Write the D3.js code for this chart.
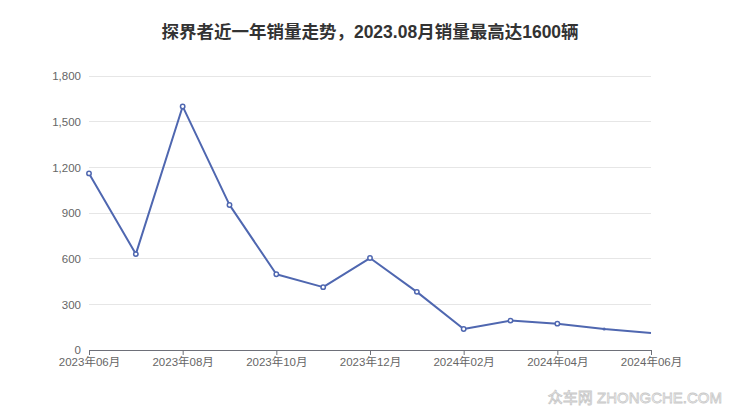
<!DOCTYPE html>
<html><head><meta charset="utf-8">
<script src="https://cdn.jsdelivr.net/npm/d3@7"></script>
<style>body{margin:0;background:#fff;}svg{display:block;font-family:"Liberation Sans","Noto Sans CJK SC",sans-serif;}</style>
</head><body>
<svg id="c" width="740" height="417"></svg>
<script>
const months = ["2023年06月","2023年07月","2023年08月","2023年09月","2023年10月","2023年11月","2023年12月","2024年01月","2024年02月","2024年03月","2024年04月","2024年05月","2024年06月"];
const sales = [1160, 630, 1600, 953, 498, 413, 604, 382, 138, 193, 173, 138, 112];
const yTicks = [0, 300, 600, 900, 1200, 1500, 1800];
const title = "探界者近一年销量走势，2023.08月销量最高达1600辆";

const svg = d3.select("#c");
const m = {l: 89, r: 651, t: 76, b: 350};
const x = d3.scalePoint().domain(months).range([m.l, m.r]);
const y = d3.scaleLinear().domain([0, 1800]).range([m.b, m.t]);

svg.append("text").attr("x", 370).attr("y", 38).attr("text-anchor", "middle")
  .attr("font-size", 17.5).attr("font-weight", "bold").attr("fill", "#333").text(title);

// grid
svg.append("g").selectAll("line").data(yTicks.filter(d => d > 0)).join("line")
  .attr("x1", m.l).attr("x2", m.r).attr("y1", d => y(d)).attr("y2", d => y(d))
  .attr("stroke", "#e6e6e6").attr("stroke-width", 1).attr("shape-rendering", "crispEdges");

// y axis labels
const yAxis = d3.axisLeft(y).tickValues(yTicks).tickSize(0).tickPadding(8).tickFormat(d3.format(","));
svg.append("g").attr("transform", `translate(${m.l},0)`).call(yAxis)
  .call(g => g.select(".domain").remove())
  .selectAll("text").attr("fill", "#666").attr("font-size", 11.5).attr("font-family", "Liberation Sans, sans-serif");

// x axis
const xAxis = d3.axisBottom(x).tickValues(months.filter((d, i) => i % 2 === 0)).tickSize(5).tickPadding(3);
svg.append("g").attr("transform", `translate(0,${m.b})`).call(xAxis)
  .call(g => g.select(".domain").attr("stroke", "#6e7079").attr("d", `M${m.l},0.5H${m.r}`))
  .call(g => g.selectAll(".tick line").attr("stroke", "#6e7079"))
  .selectAll("text").attr("fill", "#666").attr("font-size", 11.5).attr("font-family", "Liberation Sans, Noto Sans CJK SC, sans-serif");

// line
const line = d3.line().x((d, i) => x(months[i])).y(d => y(d));
svg.append("path").datum(sales).attr("d", line).attr("fill", "none")
  .attr("stroke", "#4f67b0").attr("stroke-width", 2).attr("stroke-linejoin", "round");

svg.append("g").selectAll("circle").data(sales.slice(0, 11)).join("circle")
  .attr("cx", (d, i) => x(months[i])).attr("cy", d => y(d)).attr("r", 2.2)
  .attr("fill", "#fff").attr("stroke", "#4f67b0").attr("stroke-width", 1.5);
svg.append("circle").attr("cx", x(months[11])).attr("cy", y(sales[11])).attr("r", 1.6).attr("fill", "#4f67b0");

// watermark
svg.append("text").attr("x", 722).attr("y", 403).attr("text-anchor", "end")
  .attr("font-size", 15).attr("fill", "#fff").attr("stroke", "#c8c8c8").attr("stroke-width", 0.8)
  .attr("font-family", "Liberation Sans, Noto Sans CJK SC, sans-serif")
  .text("众车网 ZHONGCHE.COM");
</script>
</body></html>
